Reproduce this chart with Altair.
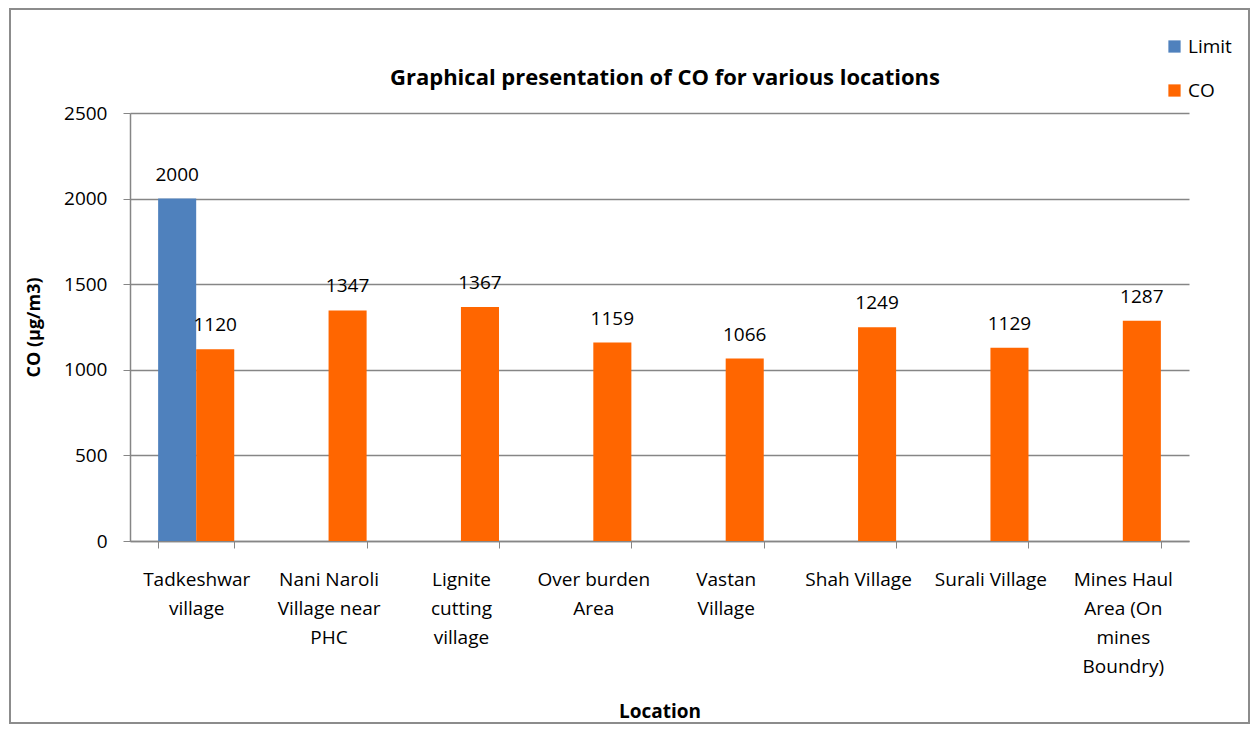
import altair as alt
import pandas as pd

locations = [
    "Tadkeshwar\nvillage",
    "Nani Naroli\nVillage near\nPHC",
    "Lignite\ncutting\nvillage",
    "Over burden\nArea",
    "Vastan\nVillage",
    "Shah Village",
    "Surali Village",
    "Mines Haul\nArea (On\nmines\nBoundry)",
]
series = ["Limit", "CO"]
limit_values = [2000, None, None, None, None, None, None, None]
co_values = [1120, 1347, 1367, 1159, 1066, 1249, 1129, 1287]
colors = ["#4F81BD", "#FF6600"]
y_ticks = [0, 500, 1000, 1500, 2000, 2500]
chart_title = "Graphical presentation of CO for various locations"

rows = []
for loc, lv, cv in zip(locations, limit_values, co_values):
    if lv is not None:
        rows.append({"Location": loc, "Series": "Limit", "Value": lv})
    rows.append({"Location": loc, "Series": "CO", "Value": cv})
df = pd.DataFrame(rows)

FONT = "Open Sans"
GRID = "#868686"
FS = 19

x_enc = alt.X(
    "Location:N",
    sort=locations,
    scale=alt.Scale(paddingInner=0.425, paddingOuter=0.2125),
    axis=alt.Axis(
        title="Location",
        labelAngle=0,
        labelExpr="split(datum.label, '\\n')",
        labelFontSize=FS,
        labelLineHeight=29,
        labelPadding=22,
        labelColor="#000000",
        tickBand="extent",
        tickSize=7,
        tickColor=GRID,
        domainColor=GRID,
        domainWidth=1.5,
        titleFontSize=19,
        titleFontWeight="bold",
        titlePadding=26,
        grid=False,
    ),
)
xo_enc = alt.XOffset("Series:N", scale=alt.Scale(domain=series))
y_enc = alt.Y(
    "Value:Q",
    scale=alt.Scale(domain=[0, 2500], nice=False, zero=True),
    axis=alt.Axis(
        title="CO (µg/m3)",
        values=y_ticks,
        format="d",
        labelFontSize=FS,
        labelColor="#000000",
        labelPadding=16,
        tickSize=7,
        tickColor=GRID,
        domainColor=GRID,
        domainWidth=1.5,
        gridColor=GRID,
        gridWidth=1.5,
        titleFontSize=18,
        titleFontWeight="bold",
        titlePadding=20,
    ),
)

base = alt.Chart(df)

bars = base.mark_bar().encode(
    x=x_enc,
    xOffset=xo_enc,
    y=y_enc,
    color=alt.Color(
        "Series:N",
        scale=alt.Scale(domain=series, range=colors),
        legend=alt.Legend(
            title=None,
            orient="none",
            legendX=1035,
            legendY=-76,
            symbolType="square",
            symbolSize=150,
            symbolStrokeWidth=0,
            labelFontSize=FS,
            labelColor="#000000",
            rowPadding=24,
        ),
    ),
)

labels = base.mark_text(baseline="bottom", dy=-14, fontSize=FS, font=FONT, color="#000000").encode(
    x=alt.X("Location:N", sort=locations),
    xOffset=xo_enc,
    y=alt.Y("Value:Q", scale=alt.Scale(domain=[0, 2500], nice=False, zero=True)),
    text=alt.Text("Value:Q", format="d"),
)

border = alt.Chart(pd.DataFrame({"a": [0]})).mark_rect(
    filled=False, stroke="#8c8c8c", strokeWidth=2
).encode(
    x=alt.value(-120), x2=alt.value(1119), y=alt.value(-104), y2=alt.value(610)
)

title_mark = alt.Chart(pd.DataFrame({"t": [chart_title]})).mark_text(
    fontSize=22, fontWeight="bold", font=FONT, color="#000000", baseline="middle", align="center"
).encode(x=alt.value(535), y=alt.value(-35), text="t:N")

chart = (
    alt.layer(border, bars, labels, title_mark)
    .properties(
        width=1059,
        height=428,
        autosize=alt.AutoSizeParams(type="none"),
        padding={"left": 122, "top": 105, "right": 61, "bottom": 183},
    )
    .configure(font=FONT)
    .configure_view(stroke=None)
)

chart.save("out.html", embed_options={"renderer": "svg", "actions": False})
